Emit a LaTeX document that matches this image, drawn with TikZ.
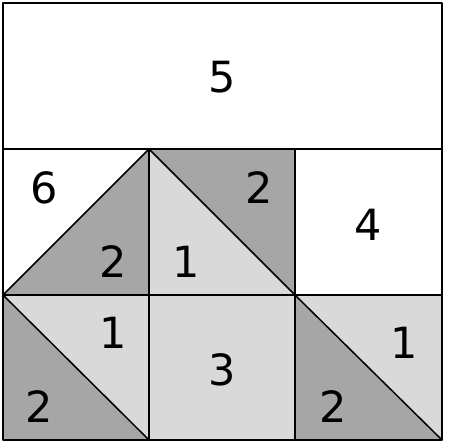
\documentclass[tikz,border=0pt]{standalone}
\usepackage{fontspec}
\setmainfont{DejaVu Sans}
\definecolor{dk}{HTML}{A6A6A6}
\definecolor{lt}{HTML}{D9D9D9}
\tikzset{lab/.style={font=\fontsize{43}{43}\selectfont, inner sep=0pt},
 ln/.style={line width=1.5pt, black, line join=round}}
\begin{document}
\begin{tikzpicture}[x=1pt,y=-1pt]
\useasboundingbox (0,0) rectangle (450,443);
% coordinates
\coordinate (a0) at (3,149); \coordinate (a1) at (149,149); \coordinate (a2) at (295,149); \coordinate (a3) at (442,149);
\coordinate (b0) at (3,295); \coordinate (b1) at (149,295); \coordinate (b2) at (295,295); \coordinate (b3) at (442,295);
\coordinate (c0) at (3,440); \coordinate (c1) at (149,440); \coordinate (c2) at (295,440); \coordinate (c3) at (442,440);
\coordinate (t0) at (3,3); \coordinate (t3) at (442,3);
% fills
\fill[dk] (b0) -- (a1) -- (b1) -- cycle;
\fill[lt] (a1) -- (b1) -- (b2) -- cycle;
\fill[dk] (a1) -- (a2) -- (b2) -- cycle;
\fill[lt] (b0) -- (b1) -- (c1) -- cycle;
\fill[dk] (b0) -- (c1) -- (c0) -- cycle;
\fill[lt] (b1) rectangle (c2);
\fill[lt] (b2) -- (b3) -- (c3) -- cycle;
\fill[dk] (b2) -- (c3) -- (c2) -- cycle;
% lines
\draw[ln] (t0) rectangle (c3);
\draw[ln] (a0) -- (a3);
\draw[ln] (b0) -- (b3);
\draw[ln] (a1) -- (c1);
\draw[ln] (a2) -- (c2);
\draw[ln] (b0) -- (a1) -- (b2);
\draw[ln] (b0) -- (c1);
\draw[ln] (b2) -- (c3);
% labels
\node[lab] (n5) at (222,77) {5};
\node[lab] (n6) at (44,188) {6};
\node[lab] (n2a) at (113,262) {2};
\node[lab] (n2b) at (259,188) {2};
\node[lab] (n1a) at (186,262) {1};
\node[lab] (n4) at (368,225) {4};
\node[lab] (n1b) at (113,333) {1};
\node[lab] (n3) at (222,370) {3};
\node[lab] (n2c) at (39,407) {2};
\node[lab] (n1c) at (404,343) {1};
\node[lab] (n2d) at (333,407) {2};
\end{tikzpicture}
\end{document}
